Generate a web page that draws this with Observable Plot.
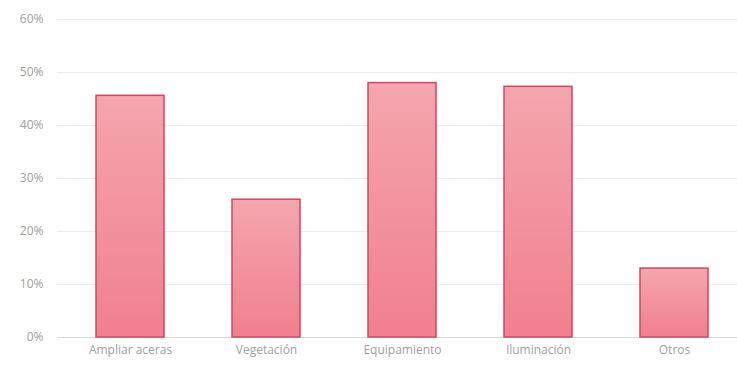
<!DOCTYPE html>
<html>
<head>
<meta charset="utf-8">
<script src="https://cdn.jsdelivr.net/npm/d3@7"></script>
<script src="https://cdn.jsdelivr.net/npm/@observablehq/plot@0.6"></script>
<style>
  html, body { margin: 0; padding: 0; background: #fff; }
</style>
</head>
<body>
<div id="chart"></div>
<script>
const categories = ["Ampliar aceras", "Vegetación", "Equipamiento", "Iluminación", "Otros"];
const values = [0.456, 0.26, 0.48, 0.473, 0.13];
const yTicks = [0, 0.1, 0.2, 0.3, 0.4, 0.5, 0.6];

const data = categories.map((c, i) => ({category: c, value: values[i]}));

const chart = Plot.plot({
  width: 737,
  height: 367,
  marginLeft: 57,
  marginRight: -9,
  marginTop: 19,
  marginBottom: 30,
  style: {fontFamily: "'Open Sans', sans-serif", fontSize: "12px", color: "#a0a0a0", background: "#fff"},
  x: {domain: categories, paddingInner: 0.5, paddingOuter: 0.274, label: null, tickSize: 0, tickPadding: 8},
  y: {domain: [0, 0.6], ticks: yTicks, tickFormat: d3.format(".0%"), label: null, tickSize: 0, tickPadding: 14},
  marks: [
    Plot.ruleY(yTicks.filter(d => d > 0), {stroke: "#ececec", strokeWidth: 1.2}),
    Plot.ruleY([0], {stroke: "#d9d9d9", strokeWidth: 1.2}),
    Plot.barY(data, {x: "category", y: "value", fill: "url(#barGrad)", stroke: "#d4445f", strokeWidth: 1.5})
  ]
});

const defs = d3.select(chart).insert("defs", ":first-child");
const grad = defs.append("linearGradient").attr("id", "barGrad")
  .attr("x1", 0).attr("y1", 0).attr("x2", 0).attr("y2", 1);
grad.append("stop").attr("offset", "0%").attr("stop-color", "#f4a6ae");
grad.append("stop").attr("offset", "100%").attr("stop-color", "#f17f8f");

document.getElementById("chart").appendChild(chart);
</script>
</body>
</html>
